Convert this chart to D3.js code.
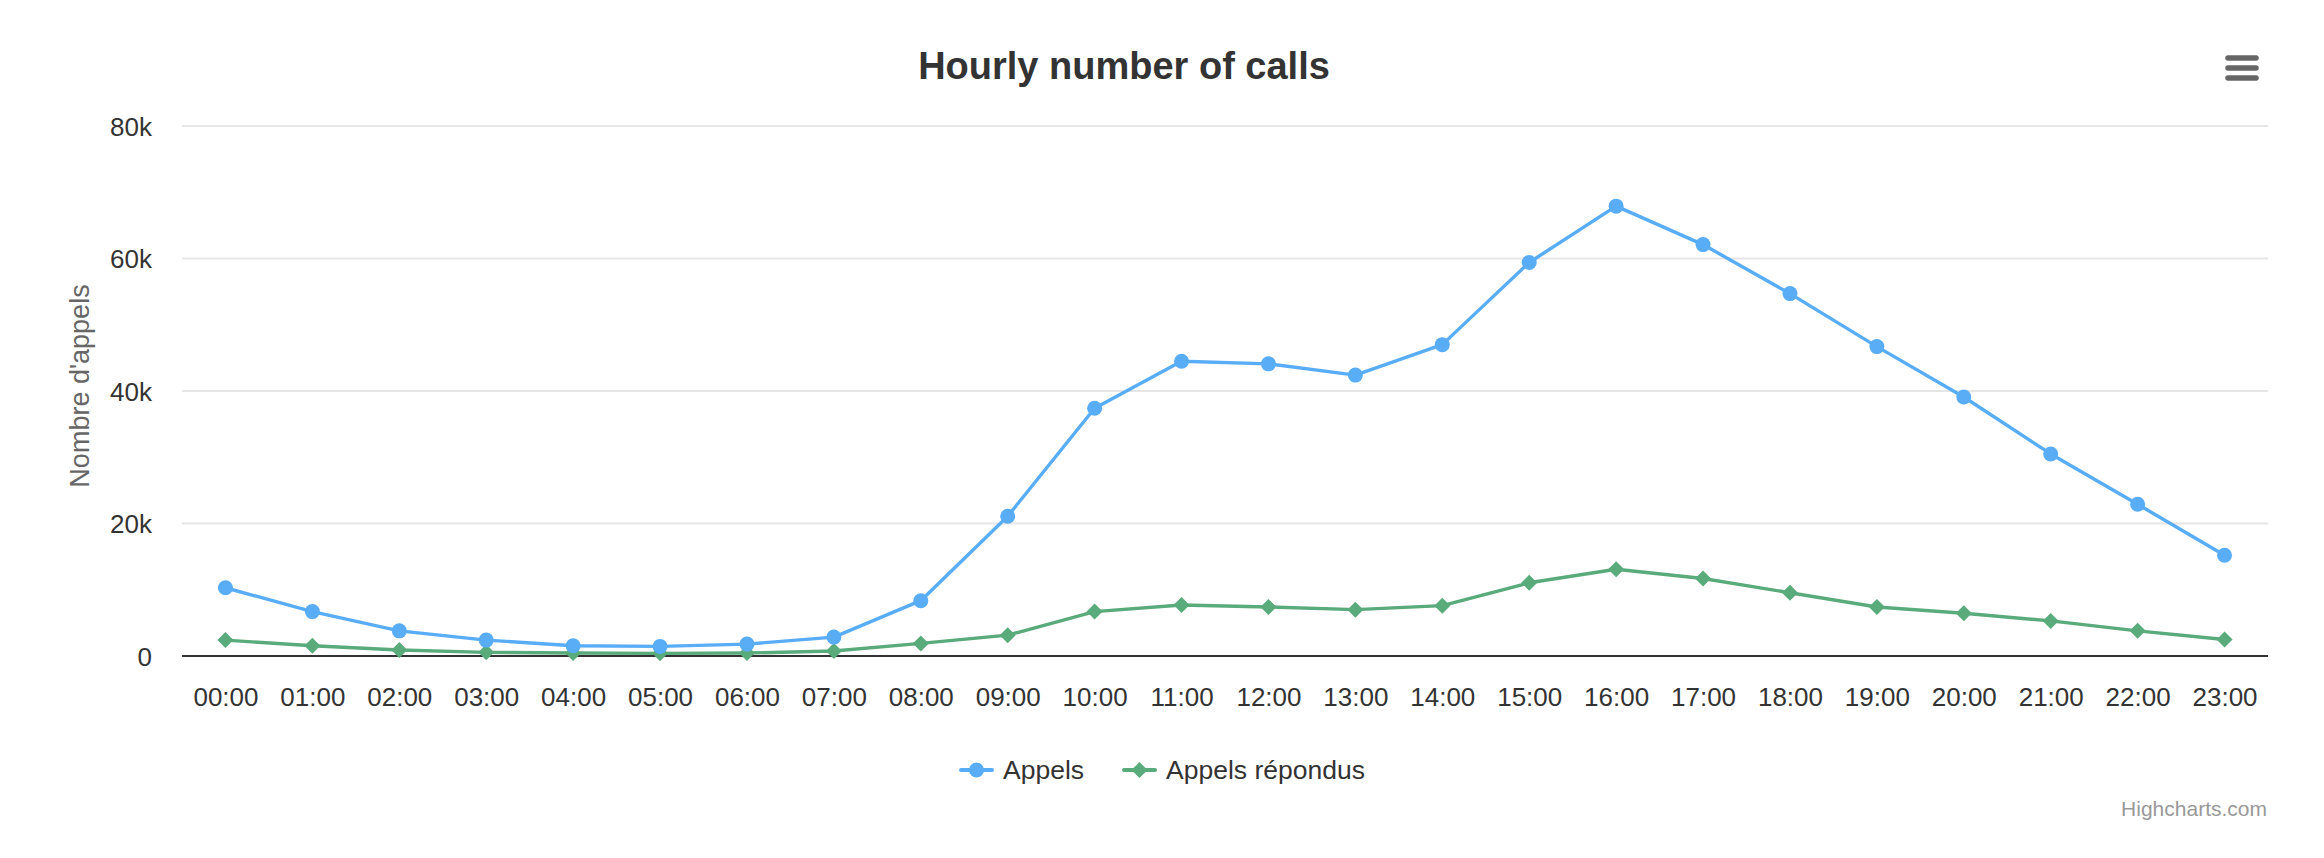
<!DOCTYPE html>
<html>
<head>
<meta charset="utf-8">
<script src="https://cdn.jsdelivr.net/npm/d3@7"></script>
<style>
  html, body { margin: 0; padding: 0; background: #fff; }
  svg { display: block; font-family: "Liberation Sans", Arial, sans-serif; }
</style>
</head>
<body>
<div id="chart"></div>
<script>
const hours = ["00:00", "01:00", "02:00", "03:00", "04:00", "05:00", "06:00", "07:00",
  "08:00", "09:00", "10:00", "11:00", "12:00", "13:00", "14:00", "15:00",
  "16:00", "17:00", "18:00", "19:00", "20:00", "21:00", "22:00", "23:00"];

const appels = [10300, 6700, 3800, 2400, 1550, 1450, 1800, 2850,
  8350, 21100, 37400, 44500, 44100, 42400, 47000, 59400,
  67900, 62100, 54700, 46700, 39100, 30500, 22900, 15200];

const appelsRepondus = [2400, 1550, 900, 550, 450, 400, 450, 750,
  1900, 3150, 6700, 7700, 7400, 7000, 7600, 11050,
  13100, 11700, 9550, 7400, 6450, 5300, 3800, 2500];

const yTicks = [0, 20000, 40000, 60000, 80000];

const series = [
  { name: "Appels", values: appels, color: "#58adf6", symbol: "circle" },
  { name: "Appels répondus", values: appelsRepondus, color: "#5aab7b", symbol: "diamond" }
];

const width = 2324, height = 858;
const plot = { left: 182, right: 2268, top: 126, bottom: 656 };

const svg = d3.select("#chart").append("svg")
  .attr("width", width)
  .attr("height", height);

const x = d3.scalePoint()
  .domain(hours)
  .range([plot.left, plot.right])
  .padding(0.5);

const y = d3.scaleLinear()
  .domain([0, 80000])
  .range([plot.bottom, plot.top]);

// gridlines
svg.append("g")
  .selectAll("line")
  .data(yTicks.filter(d => d > 0))
  .enter().append("line")
  .attr("x1", plot.left).attr("x2", plot.right)
  .attr("y1", d => y(d)).attr("y2", d => y(d))
  .attr("stroke", "#e6e6e6")
  .attr("stroke-width", 2);

// y axis labels
const yAxis = d3.axisLeft(y)
  .tickValues(yTicks)
  .tickSize(0)
  .tickPadding(0)
  .tickFormat(d => d === 0 ? "0" : (d / 1000) + "k");

svg.append("g")
  .attr("transform", "translate(152,0)")
  .call(yAxis)
  .call(g => g.select(".domain").remove())
  .call(g => g.selectAll("text")
    .attr("font-size", 26)
    .attr("font-family", "Liberation Sans, Arial, sans-serif")
    .attr("fill", "#333")
    .attr("dy", "0.35em"));

// x axis
const xAxis = d3.axisBottom(x).tickSize(0).tickPadding(0);
svg.append("g")
  .attr("transform", `translate(0,${plot.bottom})`)
  .call(xAxis)
  .call(g => g.select(".domain").remove())
  .call(g => g.selectAll("text")
    .attr("font-size", 26)
    .attr("font-family", "Liberation Sans, Arial, sans-serif")
    .attr("fill", "#333")
    .attr("dy", null)
    .attr("y", 50));

svg.append("line")
  .attr("x1", plot.left).attr("x2", plot.right)
  .attr("y1", plot.bottom).attr("y2", plot.bottom)
  .attr("stroke", "#333")
  .attr("stroke-width", 2);

// y axis title
svg.append("text")
  .attr("transform", `translate(89,${(plot.top + plot.bottom) / 2 - 5}) rotate(-90)`)
  .attr("text-anchor", "middle")
  .attr("font-size", 27)
  .attr("fill", "#666")
  .text("Nombre d'appels");

// title
svg.append("text")
  .attr("x", 1124)
  .attr("y", 79)
  .attr("text-anchor", "middle")
  .attr("font-size", 38)
  .attr("font-weight", "bold")
  .attr("fill", "#333")
  .text("Hourly number of calls");

const diamond = r => `M0,${-r}L${r},0L0,${r}L${-r},0Z`;

function drawMarker(sel, s) {
  if (s.symbol === "circle") {
    sel.append("circle").attr("r", 7.5).attr("fill", s.color);
  } else {
    sel.append("path").attr("d", diamond(8)).attr("fill", s.color);
  }
}

const line = d3.line()
  .x((d, i) => x(hours[i]))
  .y(d => y(d));

series.slice().reverse().forEach(s => {
  const g = svg.append("g");
  g.append("path")
    .datum(s.values)
    .attr("d", line)
    .attr("fill", "none")
    .attr("stroke", s.color)
    .attr("stroke-width", 3.4)
    .attr("stroke-linejoin", "round")
    .attr("stroke-linecap", "round");
  g.selectAll(".pt")
    .data(s.values)
    .enter().append("g")
    .attr("class", "pt")
    .attr("transform", (d, i) => `translate(${x(hours[i])},${y(d)})`)
    .each(function () { drawMarker(d3.select(this), s); });
});

// legend
const legendItems = [{ x: 961 }, { x: 1124 }];
series.forEach((s, i) => {
  const g = svg.append("g")
    .attr("transform", `translate(${legendItems[i].x},770)`);
  g.append("line")
    .attr("x1", 0).attr("x2", 31)
    .attr("stroke", s.color)
    .attr("stroke-width", 4)
    .attr("stroke-linecap", "round");
  const m = g.append("g").attr("transform", "translate(15.5,0)");
  drawMarker(m, s);
  g.append("text")
    .attr("x", 42)
    .attr("y", 9)
    .attr("font-size", 26.5)
    .attr("fill", "#333")
    .text(s.name);
});

// export menu icon
svg.append("g")
  .selectAll("line")
  .data([58, 68, 78])
  .enter().append("line")
  .attr("x1", 2228).attr("x2", 2256)
  .attr("y1", d => d).attr("y2", d => d)
  .attr("stroke", "#666")
  .attr("stroke-width", 5.5)
  .attr("stroke-linecap", "round");

// credits
svg.append("text")
  .attr("x", 2267)
  .attr("y", 816)
  .attr("text-anchor", "end")
  .attr("font-size", 21)
  .attr("fill", "#999")
  .text("Highcharts.com");
</script>
</body>
</html>
